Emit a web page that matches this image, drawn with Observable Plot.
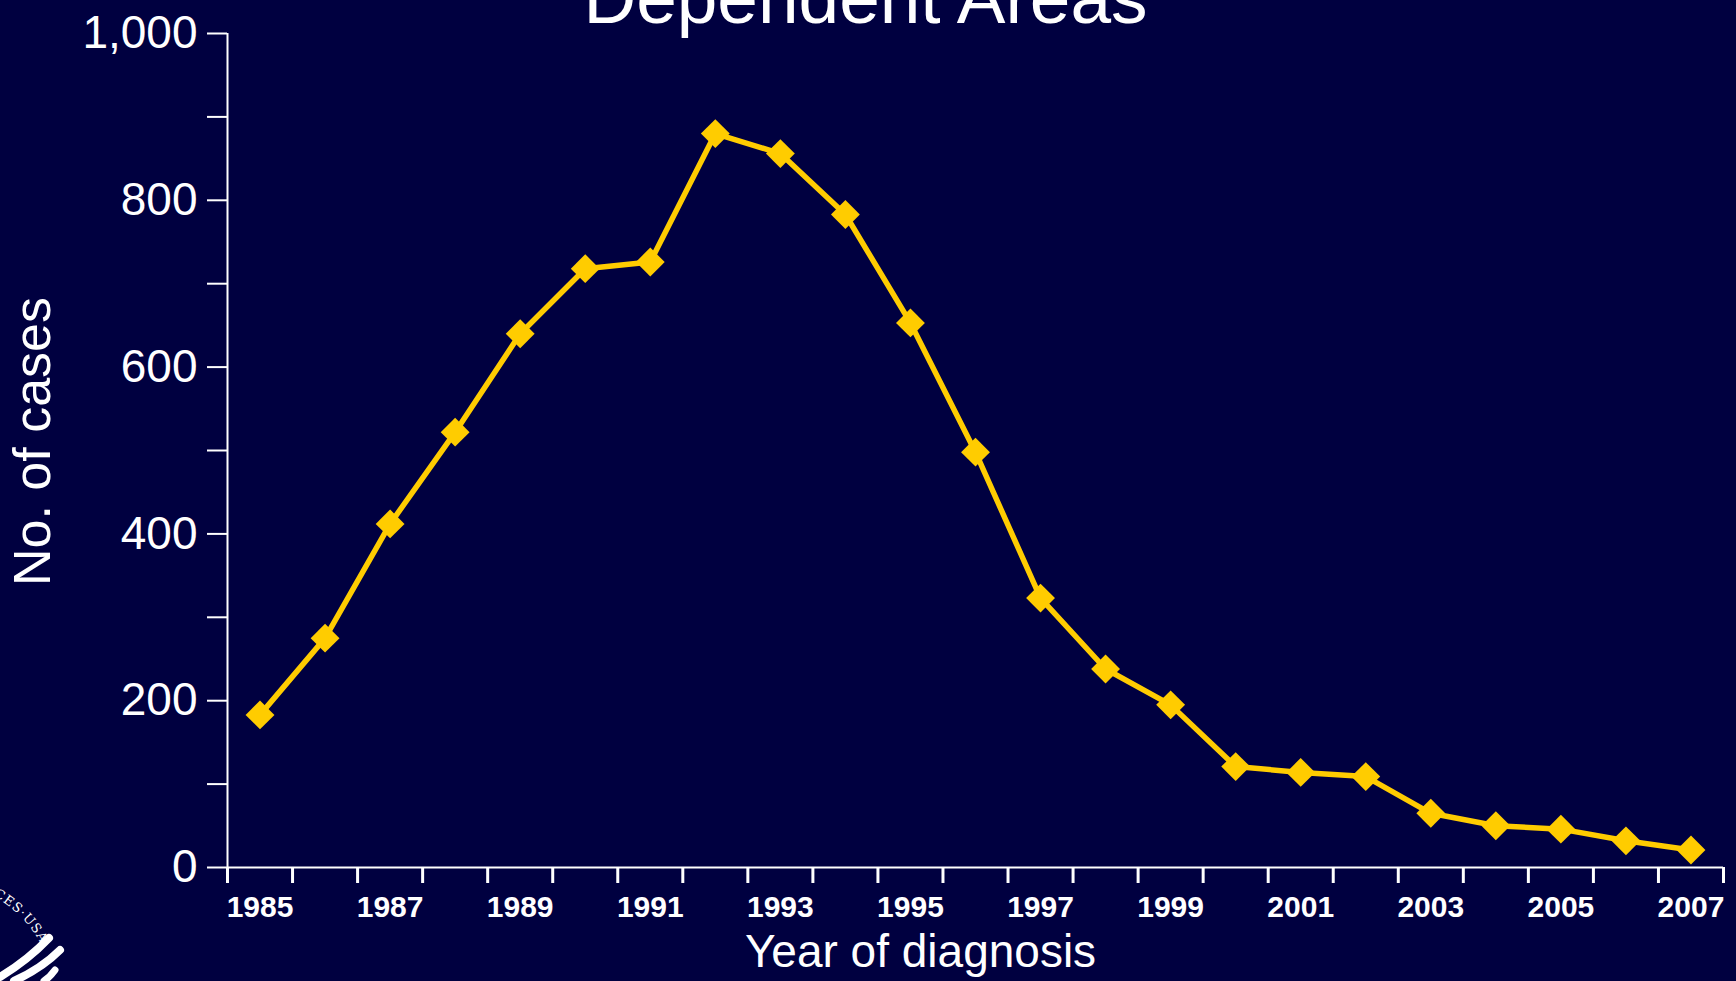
<!DOCTYPE html>
<html>
<head>
<meta charset="utf-8">
<script src="https://cdn.jsdelivr.net/npm/d3@7"></script>
<script src="https://cdn.jsdelivr.net/npm/@observablehq/plot@0.6"></script>
<style>
  html, body { margin: 0; padding: 0; background: #000040; overflow: hidden; }
  #chart { width: 1736px; height: 981px; }
</style>
</head>
<body>
<div id="chart"></div>
<script>
// ---- Data ----
const years = [1985, 1986, 1987, 1988, 1989, 1990, 1991, 1992, 1993, 1994, 1995, 1996,
               1997, 1998, 1999, 2000, 2001, 2002, 2003, 2004, 2005, 2006, 2007];
const cases = [183, 275, 412, 522, 640, 718, 726, 880, 856, 783, 653, 498,
               323, 238, 195, 121, 114, 109, 65, 50, 46, 32, 21];
const xTickLabels = [1985, 1987, 1989, 1991, 1993, 1995, 1997, 1999, 2001, 2003, 2005, 2007];
const yTicks = [0, 100, 200, 300, 400, 500, 600, 700, 800, 900, 1000];
const yTickLabels = [0, 200, 400, 600, 800, 1000];
const titleText = "Dependent Areas";
const xLabel = "Year of diagnosis";
const yLabel = "No. of cases";

const data = years.map((yr, i) => ({year: yr, cases: cases[i]}));
// band boundaries between years (tick marks sit between categories)
const xBounds = years.map(y => y - 0.5).concat([years[years.length - 1] + 0.5]);

const bg = "#000040";
const gold = "#FFCC00";
const font = "'Liberation Sans', Arial, Helvetica, sans-serif";

const chart = Plot.plot({
  width: 1736,
  height: 981,
  marginLeft: 227,
  marginRight: 13,
  marginTop: 33,
  marginBottom: 114,
  style: {background: bg, color: "white", fontFamily: font, overflow: "visible"},
  x: {domain: [xBounds[0], xBounds[xBounds.length - 1]]},
  y: {domain: [0, 1000]},
  marks: [
    Plot.ruleX([xBounds[0]], {y1: 0, y2: 1000, stroke: "white", strokeWidth: 2}),
    Plot.ruleY([0], {stroke: "white", strokeWidth: 2}),
    Plot.axisY({
      ticks: yTicks, tickSize: 20, tickPadding: 10, label: null,
      tickFormat: d => yTickLabels.includes(d) ? d3.format(",")(d) : "",
      fontSize: 46, stroke: "white", strokeWidth: 2, fill: "white"
    }),
    Plot.axisX({
      ticks: xBounds, tickSize: 16, label: null, tickFormat: () => "",
      stroke: "white", strokeWidth: 3
    }),
    Plot.axisX({
      ticks: xTickLabels, tickSize: 0, tickPadding: 28, label: null,
      tickFormat: d => String(d), fontSize: 30, fontWeight: "bold", fill: "white"
    }),
    Plot.line(data, {x: "year", y: "cases", stroke: gold, strokeWidth: 5.5}),
    Plot.dot(data, {x: "year", y: "cases", symbol: "diamond2", r: 13, fill: gold, stroke: "none"}),
    Plot.text([titleText], {frameAnchor: "top", dx: -110, dy: -34, lineAnchor: "middle",
      textAnchor: "middle", fontSize: 73, fill: "white"}),
    Plot.text([xLabel], {frameAnchor: "bottom", dx: -55, dy: 85, lineAnchor: "middle",
      textAnchor: "middle", fontSize: 46, fill: "white"}),
    Plot.text([yLabel], {frameAnchor: "left", dx: -194, dy: -9, rotate: -90, lineAnchor: "middle",
      textAnchor: "middle", fontSize: 52, fill: "white"})
  ]
});

document.getElementById("chart").appendChild(chart);

// partial seal logo at the bottom-left corner
const svg = d3.select(chart);
const logo = svg.append("g");
logo.append("path").attr("id", "sealArc").attr("fill", "none")
  .attr("d", "M -78,882 A 120 120 0 0 1 41,944");
logo.append("text").attr("fill", "white").attr("font-family", "'DejaVu Serif', serif")
  .attr("font-size", 13).attr("letter-spacing", 1).attr("text-anchor", "end")
  .append("textPath").attr("href", "#sealArc").attr("startOffset", "100%")
  .text("SERVICES·USA");
[["M 49,938 Q 28,960 0,977", 8], ["M 60,950 Q 42,968 14,981", 8], ["M 55,970 Q 50,977 44,981", 7]]
  .forEach(([d, w]) => logo.append("path").attr("d", d).attr("fill", "none")
    .attr("stroke", "white").attr("stroke-width", w).attr("stroke-linecap", "round"));
</script>
</body>
</html>
